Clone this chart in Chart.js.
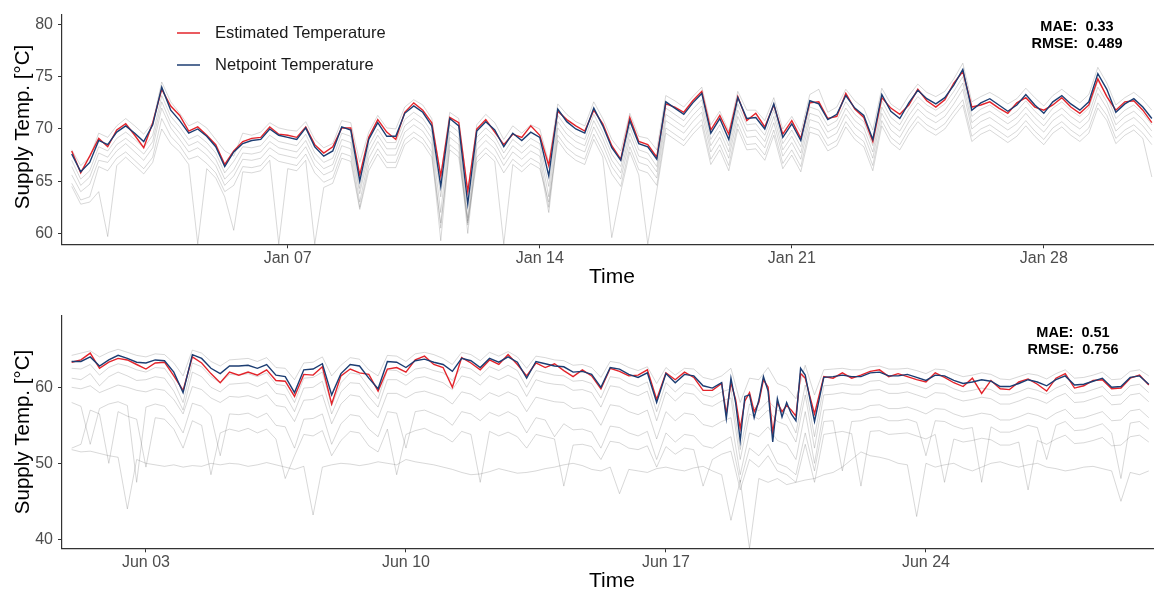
<!DOCTYPE html>
<html>
<head>
<meta charset="utf-8">
<script src="https://cdn.jsdelivr.net/npm/chart.js@4.4.1/dist/chart.umd.min.js"></script>
<style>
  html, body { margin: 0; padding: 0; background: #fff; }
  #top { position: absolute; left: 0; top: 0; width: 1154px; height: 295px; }
  #bottom { position: absolute; left: 0; top: 295px; width: 1154px; height: 296px; }
</style>
</head>
<body>
<div id="top"><canvas id="chartTop"></canvas></div>
<div id="bottom"><canvas id="chartBottom"></canvas></div>
<script>
// time grids, in days since Jan 01 / Jun 01 00:00 (6 hourly, 3 hourly in the Jun 18-20 burst)
const janDays = [];
for (let h = 0; h <= 720; h += 6) janDays.push(h / 24);
const junDays = [];
for (let h = 0; h <= 696; h += (h >= 420 && h < 480) ? 3 : 6) junDays.push(h / 24);
const junGrayDays = [];
for (let h = 0; h <= 696; h += 6) junGrayDays.push(h / 24);

// tick labels
const janTickDays = [6, 13, 20, 27];
const janTickLabels = ['Jan 07', 'Jan 14', 'Jan 21', 'Jan 28'];
const junTickDays = [2, 9, 16, 23];
const junTickLabels = ['Jun 03', 'Jun 10', 'Jun 17', 'Jun 24'];
const janYTicks = [60, 65, 70, 75, 80];
const junYTicks = [40, 50, 60];

// January
const janNetpoint = [
  67.6, 65.9, 66.8, 68.9, 68.5, 69.7, 70.3, 69.6, 68.8, 70.4,
  74.0, 71.8, 70.8, 69.6, 70.0, 69.3, 68.3, 66.4, 67.8, 68.6,
  68.9, 69.0, 70.0, 69.4, 69.2, 69.0, 70.1, 68.3, 67.4, 67.9,
  70.2, 69.9, 65.0, 69.0, 70.6, 69.3, 69.3, 71.5, 72.2, 71.6,
  70.3, 64.5, 71.0, 70.3, 62.8, 69.8, 70.7, 69.9, 68.3, 69.6,
  68.9, 69.7, 69.2, 65.5, 71.9, 70.7, 70.0, 69.6, 72.0, 70.3,
  68.2, 67.0, 70.8, 68.6, 68.3, 67.1, 72.6, 72.0, 71.4, 72.5,
  73.4, 69.6, 71.0, 69.0, 73.0, 71.0, 71.1, 70.0, 72.4, 69.2,
  70.5, 68.9, 72.7, 72.4, 70.9, 71.4, 73.2, 72.0, 71.3, 69.0,
  73.3, 71.7, 71.0, 72.5, 73.7, 72.9, 72.4, 73.0, 74.2, 75.7,
  71.8, 72.5, 72.9, 72.3, 71.7, 72.3, 73.3, 72.3, 71.5, 72.6,
  73.2, 72.4, 71.8, 72.6, 75.3, 73.8, 71.6, 72.4, 72.9, 72.1, 71.0
];
const janEstimated = [
  67.9, 65.8, 67.4, 69.1, 68.3, 69.9, 70.5, 69.4, 68.2, 70.6,
  73.8, 72.2, 71.3, 69.8, 70.2, 69.4, 68.5, 66.6, 67.9, 68.8,
  69.1, 69.2, 70.2, 69.5, 69.4, 69.2, 70.2, 68.5, 67.7, 68.3,
  70.1, 70.1, 65.6, 69.2, 70.9, 69.7, 69.0, 71.6, 72.5, 71.8,
  70.6, 65.5, 71.1, 70.6, 64.0, 70.0, 70.9, 69.7, 68.5, 69.5,
  69.2, 70.3, 69.4, 66.5, 71.7, 70.9, 70.3, 69.8, 71.8, 70.5,
  68.4, 67.1, 71.1, 68.8, 68.5, 67.3, 72.4, 72.1, 71.6, 72.7,
  73.6, 69.9, 71.3, 69.5, 73.1, 70.8, 71.5, 70.2, 72.3, 69.5,
  70.8, 69.1, 72.5, 72.6, 71.0, 71.2, 73.4, 71.9, 71.1, 68.8,
  73.0, 72.0, 71.4, 72.3, 73.8, 72.7, 72.1, 72.8, 74.4, 75.5,
  72.1, 72.3, 72.6, 72.0, 71.5, 72.5, 73.0, 72.1, 71.8, 72.3,
  73.0, 72.1, 71.5, 72.3, 74.8, 73.1, 71.8, 72.6, 72.7, 71.8, 70.6
];
const janGray1 = [
  68.0, 66.5, 67.3, 69.6, 69.2, 70.3, 71.0, 70.3, 69.5, 70.6,
  74.5, 72.6, 71.5, 70.3, 70.7, 70.1, 69.0, 67.9, 67.4, 69.6,
  69.4, 69.7, 70.6, 70.1, 69.9, 69.8, 70.7, 69.0, 68.2, 68.6,
  70.8, 70.6, 66.8, 69.7, 71.3, 70.1, 70.0, 72.1, 72.8, 72.3,
  71.0, 65.5, 71.6, 71.0, 64.0, 70.4, 71.4, 70.6, 69.0, 70.3,
  69.6, 70.4, 70.0, 66.8, 72.4, 71.4, 70.7, 70.3, 72.6, 71.0,
  69.0, 67.9, 71.5, 69.3, 69.1, 68.0, 73.2, 72.7, 72.1, 73.1,
  74.0, 70.4, 71.7, 69.8, 73.6, 71.8, 71.8, 70.8, 73.0, 70.0,
  71.2, 69.7, 73.3, 73.8, 71.6, 72.1, 73.8, 72.7, 72.0, 69.9,
  73.9, 72.4, 71.8, 73.2, 74.3, 73.5, 73.1, 73.6, 74.8, 76.3,
  72.6, 73.1, 73.5, 73.0, 72.4, 72.9, 73.9, 73.0, 72.2, 73.2,
  73.8, 73.1, 72.5, 73.3, 75.9, 74.4, 72.3, 73.0, 73.5, 72.8, 71.8
];
const janGray2 = [
  67.0, 65.2, 66.0, 68.3, 67.9, 69.1, 69.7, 69.0, 68.2, 69.4,
  73.2, 71.2, 70.2, 69.0, 69.4, 68.7, 67.7, 65.8, 66.9, 68.3,
  68.2, 68.4, 69.4, 68.8, 68.6, 68.4, 69.5, 67.7, 66.8, 67.2,
  69.6, 69.3, 64.3, 68.4, 70.0, 68.7, 68.7, 70.9, 71.6, 71.0,
  69.7, 63.5, 70.4, 69.7, 61.5, 69.2, 70.1, 69.3, 67.7, 69.0,
  68.3, 69.1, 68.6, 64.5, 71.3, 70.1, 69.4, 69.0, 71.4, 69.7,
  67.6, 66.4, 70.2, 68.0, 67.7, 66.4, 72.0, 71.4, 70.8, 71.9,
  72.8, 69.0, 70.4, 68.4, 72.4, 70.4, 70.5, 69.4, 71.8, 68.6,
  69.9, 68.3, 72.1, 71.8, 70.3, 70.8, 72.6, 71.4, 70.7, 68.4,
  72.7, 71.1, 70.4, 71.9, 73.1, 72.3, 71.8, 72.4, 73.6, 75.0,
  71.2, 71.9, 72.3, 71.7, 71.1, 71.7, 72.7, 71.7, 70.9, 72.0,
  72.6, 71.8, 71.2, 72.0, 74.6, 73.2, 71.0, 71.8, 72.3, 71.5, 70.4
];
const janGray3 = [
  66.4, 64.6, 65.4, 67.7, 67.3, 68.5, 69.1, 68.4, 67.6, 68.8,
  72.6, 70.6, 69.6, 68.4, 68.8, 68.1, 67.1, 65.2, 66.1, 67.7,
  67.6, 67.8, 68.8, 68.2, 68.0, 67.8, 68.9, 67.1, 66.2, 66.6,
  69.0, 68.7, 63.8, 67.8, 69.4, 68.1, 68.1, 70.3, 71.0, 70.4,
  69.1, 62.0, 69.8, 69.1, 60.8, 68.6, 69.5, 68.7, 67.1, 68.4,
  67.7, 68.5, 68.0, 63.5, 70.7, 69.5, 68.8, 68.4, 70.8, 69.1,
  67.0, 65.8, 69.6, 67.4, 67.1, 65.9, 71.4, 70.8, 70.2, 71.3,
  72.2, 68.4, 69.8, 67.8, 71.8, 69.8, 69.9, 68.8, 71.2, 68.0,
  69.3, 67.7, 71.5, 71.2, 69.7, 70.2, 72.0, 70.8, 70.1, 67.8,
  72.1, 70.5, 69.8, 71.3, 72.5, 71.7, 71.2, 71.8, 73.0, 74.4,
  70.6, 71.3, 71.7, 71.1, 70.5, 71.1, 72.1, 71.1, 70.3, 71.4,
  72.0, 71.2, 70.6, 71.4, 74.0, 72.6, 70.4, 71.2, 71.7, 70.9, 69.8
];
const janGray4 = [
  65.6, 64.0, 64.7, 67.0, 66.8, 67.9, 68.6, 67.8, 67.0, 68.2,
  72.0, 70.1, 69.0, 67.8, 68.2, 67.5, 66.5, 64.6, 65.5, 67.1,
  67.0, 67.2, 68.2, 67.6, 67.4, 67.2, 68.3, 66.5, 65.6, 66.0,
  68.4, 68.1, 63.0, 67.2, 68.8, 67.5, 67.5, 69.7, 70.4, 69.8,
  68.5, 60.5, 69.2, 68.5, 60.0, 68.0, 68.9, 68.1, 66.5, 67.8,
  67.1, 67.9, 67.4, 62.5, 70.1, 68.9, 68.2, 67.8, 70.2, 68.5,
  66.4, 65.2, 69.0, 66.8, 66.5, 65.3, 70.8, 70.2, 69.6, 70.7,
  71.6, 67.8, 69.2, 67.2, 71.2, 69.2, 69.3, 68.2, 70.6, 67.4,
  68.7, 67.1, 70.9, 70.6, 69.1, 69.6, 71.4, 70.2, 69.5, 67.2,
  71.5, 69.9, 69.2, 70.7, 71.9, 71.1, 70.6, 71.2, 72.4, 73.8,
  70.0, 70.7, 71.1, 70.5, 69.9, 70.5, 71.5, 70.5, 69.7, 70.8,
  71.4, 70.6, 70.0, 70.8, 73.4, 72.0, 69.8, 70.6, 71.1, 70.3, 69.2
];
const janGray5 = [
  64.8, 63.2, 63.5, 66.4, 66.0, 67.2, 67.8, 67.0, 66.2, 67.3,
  71.0, 69.3, 68.4, 67.1, 67.4, 66.7, 65.8, 64.0, 64.6, 66.4,
  66.3, 66.5, 67.5, 66.9, 66.7, 66.5, 67.6, 65.8, 64.9, 65.3,
  67.7, 67.4, 62.5, 66.5, 68.1, 66.8, 66.8, 69.0, 69.7, 69.1,
  67.8, 59.3, 68.5, 67.8, 61.2, 67.3, 68.2, 67.4, 65.8, 67.1,
  66.4, 67.2, 66.7, 62.0, 69.4, 68.2, 67.5, 67.1, 69.5, 67.8,
  65.7, 64.5, 68.3, 66.1, 65.8, 64.6, 70.1, 69.5, 68.9, 70.0,
  70.9, 67.1, 68.5, 66.5, 70.5, 68.5, 68.6, 67.5, 69.9, 66.7,
  68.0, 66.4, 70.2, 69.9, 68.4, 68.9, 70.7, 69.5, 68.8, 66.5,
  70.8, 69.2, 68.5, 70.0, 71.2, 70.4, 69.9, 70.5, 71.7, 72.8,
  69.3, 70.0, 70.4, 69.8, 69.2, 69.8, 70.8, 69.8, 69.0, 70.1,
  70.7, 69.9, 69.3, 70.1, 72.5, 71.3, 69.1, 69.9, 70.4, 69.6, 68.5
];
const janGray6 = [
  64.5, 62.8, 63.0, 64.0, 59.7, 66.5, 67.3, 66.5, 65.7, 66.8,
  70.0, 68.6, 67.8, 66.6, 59.0, 66.2, 65.3, 63.5, 60.3, 65.9,
  65.8, 66.0, 67.0, 59.0, 66.2, 66.0, 67.0, 59.0, 64.4, 64.8,
  67.2, 66.9, 62.3, 66.0, 67.6, 66.3, 66.3, 68.5, 69.2, 68.6,
  67.3, 61.0, 68.0, 67.3, 61.0, 66.8, 67.7, 66.9, 59.0, 66.6,
  65.9, 66.7, 66.2, 63.0, 68.9, 67.7, 67.0, 66.6, 69.0, 67.3,
  59.6, 64.0, 67.8, 65.6, 59.0, 64.1, 69.6, 69.0, 68.4, 69.5,
  70.4, 66.6, 68.0, 66.0, 70.0, 68.0, 68.1, 67.0, 69.4, 66.2,
  67.5, 65.9, 69.7, 69.4, 67.9, 68.4, 70.2, 69.0, 68.3, 66.0,
  70.3, 68.7, 68.0, 69.5, 70.7, 69.9, 69.4, 70.0, 71.2, 72.3,
  68.8, 69.5, 69.9, 69.3, 68.7, 69.3, 70.3, 69.3, 68.5, 69.6,
  70.2, 69.4, 68.8, 69.6, 72.0, 70.8, 68.6, 69.4, 69.9, 69.1, 65.4
];

// June
const junNetpoint = [
  63.4, 63.4, 64.0, 62.8, 63.6, 64.2, 63.8, 63.3, 63.2, 63.6,
  63.5, 62.0, 59.3, 64.3, 63.8, 62.5, 61.8, 62.8, 62.8, 62.9,
  62.5, 63.0, 61.6, 61.4, 59.3, 62.3, 62.4, 63.1, 59.0, 61.8,
  63.0, 62.8, 61.2, 59.8, 63.4, 63.3, 62.6, 63.5, 63.7, 63.3,
  63.0, 62.1, 63.8, 63.5, 62.6, 63.8, 63.3, 64.0, 63.3, 61.2,
  63.4, 63.1, 62.8, 62.7, 62.0, 62.1, 61.7, 60.0, 62.6, 62.4,
  61.7, 61.3, 61.9, 58.0, 61.8, 60.6, 61.7, 61.5, 60.2, 59.9,
  60.6,
  55.9, 61.2, 58.0, 53.0, 58.8, 59.0, 56.0, 58.3, 61.4, 59.5,
  52.8, 58.5, 56.1, 58.0, 56.5, 55.6, 62.5, 61.6, 58.5, 55.5,
  61.3, 61.4, 61.6, 61.4, 61.4, 61.9, 62.0, 61.5, 61.5, 61.7,
  61.3, 60.9, 61.6, 61.5, 60.9, 60.5, 60.7, 61.0, 60.8, 60.1,
  60.1, 60.5, 61.0, 60.7, 60.2, 61.0, 61.5, 60.3, 60.4, 60.8,
  61.2, 60.0, 60.1, 61.3, 61.5, 60.4
];
const junEstimated = [
  63.3, 63.6, 64.5, 62.5, 63.3, 63.8, 63.6, 63.0, 62.4, 63.2,
  63.3, 61.5, 59.6, 64.0, 63.2, 61.8, 60.6, 62.0, 61.6, 62.0,
  61.6, 62.3, 60.9, 60.8, 58.8, 61.7, 61.6, 62.7, 57.8, 61.5,
  62.4, 61.9, 61.7, 59.5, 62.4, 62.6, 62.0, 63.6, 64.1, 63.0,
  62.6, 60.0, 63.9, 63.2, 62.3, 63.6, 63.0, 64.3, 63.0, 61.5,
  63.2, 62.6, 63.1, 62.2, 61.4, 62.3, 61.5, 59.8, 62.5, 62.1,
  61.5, 61.6, 62.3, 58.4, 61.9, 61.0, 62.0, 61.3, 59.6, 59.6,
  60.5,
  56.5, 60.6, 58.4, 54.6, 58.2, 59.3, 56.8, 58.0, 61.0, 60.0,
  54.0, 58.0, 56.8, 57.6, 57.0, 56.2, 61.8, 61.2, 58.8, 56.5,
  61.4, 61.2, 61.9, 61.2, 61.6, 62.1, 62.3, 61.4, 61.8, 61.4,
  61.0, 60.7, 61.9, 61.3, 60.6, 60.1, 61.2, 59.2, 60.9, 59.8,
  59.7, 60.7, 61.1, 60.4, 59.5, 61.2, 61.8, 59.9, 60.2, 60.9,
  61.0, 59.8, 59.9, 61.2, 61.6, 60.3
];
const junGray1 = [
  64.2, 64.5, 64.8, 64.0, 64.6, 65.0, 64.6, 64.2, 64.0, 64.4,
  64.3, 63.2, 61.5, 64.9, 64.5, 63.4, 62.8, 63.6, 63.7, 63.8,
  63.4, 63.9, 62.6, 62.5, 61.0, 63.2, 63.3, 64.0, 61.5, 62.9,
  63.9, 63.7, 62.3, 61.5, 64.2, 64.1, 63.4, 64.4, 64.6, 64.3,
  63.8, 63.0, 64.6, 64.3, 63.5, 64.6, 64.1, 64.7, 64.0, 62.5,
  64.1, 63.9, 63.6, 63.5, 62.9, 63.0, 62.6, 61.3, 63.4, 63.2,
  62.6, 62.2, 62.7, 60.5, 62.6, 61.6, 62.5, 62.4, 61.3, 61.0,
  61.5, 62.5, 58.0, 61.2, 61.0, 62.6, 60.5, 60.0, 58.5, 62.9,
  59.0,
  62.3, 62.4, 62.5, 62.3, 62.3, 62.7, 62.8, 62.4, 62.4, 62.5,
  62.2, 61.8, 62.4, 62.3, 61.8, 61.4, 61.6, 61.9, 61.7, 61.1,
  61.0, 61.4, 61.8, 61.6, 61.1, 61.8, 62.3, 61.2, 61.3, 61.6,
  62.0, 61.0, 61.1, 62.1, 62.3, 61.5
];
const junGray2 = [
  62.5, 62.4, 63.0, 61.6, 62.6, 63.1, 62.8, 62.3, 62.0, 62.6,
  62.5, 60.8, 58.0, 63.2, 62.7, 61.4, 60.6, 61.7, 61.6, 61.8,
  61.4, 61.9, 60.4, 60.2, 58.0, 61.2, 61.3, 62.0, 57.6, 60.6,
  61.9, 61.7, 60.0, 58.5, 62.3, 62.2, 61.5, 62.4, 62.6, 62.2,
  61.9, 60.9, 62.7, 62.4, 61.5, 62.7, 62.2, 62.9, 62.2, 60.0,
  62.2, 61.9, 61.6, 61.5, 60.8, 60.9, 60.5, 58.6, 61.4, 61.2,
  60.5, 60.1, 60.7, 56.8, 60.6, 59.4, 60.5, 60.3, 59.0, 58.7,
  59.4, 59.8, 51.8, 57.8, 56.9, 58.2, 57.0, 56.5, 54.0, 60.3,
  53.5,
  60.2, 60.3, 60.5, 60.3, 60.3, 60.8, 60.9, 60.4, 60.4, 60.6,
  60.2, 59.8, 60.5, 60.4, 59.8, 59.4, 59.6, 59.9, 59.7, 59.0,
  59.0, 59.4, 59.9, 59.6, 59.1, 59.9, 60.4, 59.2, 59.3, 59.7,
  60.1, 58.9, 59.0, 60.2, 60.4, 59.3
];
const junGray3 = [
  61.2, 61.0, 61.8, 60.2, 61.4, 62.0, 61.5, 60.9, 61.0, 61.4,
  61.2, 59.5, 57.0, 62.0, 61.4, 60.0, 59.4, 60.4, 60.5, 60.6,
  60.1, 60.7, 59.2, 59.0, 56.8, 59.9, 60.0, 60.8, 56.5, 59.4,
  60.6, 60.5, 58.8, 57.4, 61.0, 61.0, 60.3, 61.2, 61.4, 61.0,
  60.6, 59.7, 61.5, 61.2, 60.3, 61.5, 61.0, 61.6, 61.0, 58.8,
  61.0, 60.6, 60.4, 60.3, 59.6, 59.7, 59.3, 57.4, 60.2, 60.0,
  59.3, 58.9, 59.5, 55.6, 59.4, 58.2, 59.3, 59.1, 57.8, 57.5,
  58.2, 58.6, 50.5, 56.5, 55.8, 57.0, 55.5, 55.0, 52.8, 59.0,
  52.0,
  59.0, 59.1, 59.3, 59.1, 59.1, 59.6, 59.7, 59.2, 59.2, 59.4,
  59.0, 58.6, 59.3, 59.2, 58.6, 58.2, 58.4, 58.7, 58.5, 57.8,
  57.8, 58.2, 58.7, 58.4, 57.9, 58.7, 59.2, 58.0, 58.1, 58.5,
  58.9, 57.7, 57.8, 59.0, 59.2, 58.1
];
const junGray4 = [
  60.0, 59.8, 60.2, 59.3, 59.8, 60.3, 60.0, 59.6, 59.4, 59.8,
  59.6, 58.4, 56.5, 60.1, 59.7, 58.6, 58.0, 58.8, 58.7, 58.9,
  58.5, 59.0, 57.6, 57.4, 55.5, 58.3, 58.4, 59.0, 55.2, 57.8,
  59.0, 58.8, 57.2, 56.0, 59.2, 59.2, 58.6, 59.3, 59.5, 59.1,
  58.7, 57.8, 59.4, 59.1, 58.3, 59.3, 58.8, 59.4, 58.8, 56.8,
  58.7, 58.4, 58.1, 58.0, 57.2, 57.3, 56.9, 55.0, 57.7, 57.5,
  56.8, 56.4, 57.0, 53.2, 56.8, 55.6, 56.6, 56.4, 55.1, 54.8,
  55.5, 56.0, 48.5, 54.0, 53.5, 54.8, 53.0, 52.5, 50.5, 56.8,
  50.0,
  57.0, 57.1, 57.3, 57.0, 57.1, 57.6, 57.7, 57.2, 57.2, 57.4,
  57.0, 56.5, 57.2, 57.1, 56.5, 56.1, 56.3, 56.6, 56.4, 55.7,
  55.7, 56.1, 56.6, 56.3, 55.8, 56.6, 57.1, 55.9, 56.0, 56.4,
  56.8, 55.6, 55.7, 56.9, 57.1, 56.0
];
const junGray5 = [
  58.0, 57.5, 52.5, 57.2, 57.8, 58.1, 57.6, 47.5, 57.4, 57.8,
  57.5, 56.0, 54.0, 57.9, 57.5, 56.3, 51.0, 56.5, 56.4, 56.6,
  56.0, 56.6, 55.0, 54.8, 52.0, 55.8, 55.9, 56.5, 52.5, 55.2,
  56.4, 56.2, 54.5, 53.5, 56.8, 56.6, 52.0, 56.8, 57.0, 56.5,
  56.0, 55.0, 56.8, 56.5, 55.6, 56.7, 56.2, 56.8, 56.1, 54.0,
  56.0, 55.7, 53.5, 55.2, 54.4, 54.5, 54.1, 52.0, 54.9, 54.7,
  54.0, 53.6, 54.2, 50.5, 54.0, 52.8, 53.8, 53.6, 52.3, 52.0,
  52.8, 53.5, 47.5, 52.0, 51.0, 52.5, 50.0, 49.5, 48.5, 54.0,
  49.0,
  55.5, 55.6, 49.0, 55.5, 55.6, 56.0, 56.1, 55.6, 55.6, 55.8,
  55.4, 51.0, 55.6, 55.5, 54.9, 54.5, 54.7, 47.5, 54.8, 54.1,
  54.1, 54.5, 55.0, 54.7, 50.5, 55.0, 55.5, 54.3, 54.4, 54.8,
  55.2, 54.0, 48.0, 55.3, 55.5, 54.5
];
const junGray6 = [
  51.8, 51.5, 51.6, 51.3, 51.0, 50.8, 44.0, 50.5, 50.0, 49.8,
  49.6, 49.8, 49.5, 49.7, 49.6, 50.0, 49.8, 50.0, 49.9, 49.6,
  49.8, 50.1, 49.8, 49.5, 49.2, 49.6, 43.2, 49.5, 49.8, 50.0,
  49.9, 49.7, 49.9, 50.2, 50.0, 49.8, 50.5, 50.2, 50.0, 49.8,
  49.5, 49.2, 48.8, 48.5, 48.6, 48.9, 49.3, 49.0, 48.7, 48.8,
  49.0, 49.3, 49.5, 49.8, 50.0, 49.7, 49.2, 49.0, 49.5, 46.0,
  49.2, 49.0, 48.8, 49.3, 49.5, 49.2, 49.0, 49.4, 49.6, 49.0,
  48.5, 42.5, 47.8, 38.8, 48.0, 47.5, 48.0, 47.2, 47.5, 47.8,
  48.0,
  48.5, 48.8, 49.5, 50.5, 51.5, 51.0, 50.8, 50.5, 50.0, 49.8,
  43.0, 50.0, 49.5, 49.8, 50.0, 49.4, 49.0, 49.5, 50.0, 50.2,
  49.8, 49.5, 49.8, 50.0, 49.5, 49.3, 49.0, 49.2, 49.5, 49.6,
  49.3, 49.0, 45.0, 48.8, 48.5, 49.0
];
const junGray7 = [
  52.0, 52.5, 57.0, 56.5, 50.0, 56.8, 56.2, 55.8, 49.5, 56.0,
  55.8, 54.5, 52.0, 55.6, 55.0, 48.5, 54.0, 54.5, 54.2, 54.6,
  54.0, 54.5, 53.2, 48.0, 51.0, 53.8, 53.6, 54.3, 51.0, 53.0,
  54.2, 54.0, 52.3, 51.5, 54.5, 48.5, 53.8, 54.3, 54.6, 54.0,
  53.6, 52.8, 54.2, 53.8, 47.5, 54.2, 53.6, 54.1, 53.5, 52.0,
  53.8, 53.5, 53.2, 47.0, 52.4, 52.5, 52.2, 50.5, 52.9, 52.7,
  52.0, 51.8, 52.3, 49.5, 52.2, 51.2, 52.0, 51.8, 47.0, 50.5,
  51.2, 51.6, 46.5, 50.5, 49.5, 51.0, 49.0, 48.5, 47.5, 52.5,
  47.5,
  53.8, 54.0, 54.2, 53.9, 47.0, 54.2, 54.3, 53.8, 53.9, 54.0,
  53.6, 53.2, 53.8, 47.5, 53.2, 52.8, 53.0, 53.3, 53.1, 52.4,
  52.4, 52.8, 46.5, 53.0, 52.5, 53.2, 53.7, 52.6, 52.7, 53.0,
  53.4, 52.3, 52.4, 53.5, 53.7, 52.8
];

const RED = '#e3242b';
const BLUE = '#1c3d72';
const GRAY = 'rgba(105,105,105,0.26)';
const FONT = '"Liberation Sans", Arial, Helvetica, sans-serif';

function pts(days, vals) {
  return vals.map((v, i) => ({ x: days[i], y: v }));
}

// axis titles, legend and error metrics
const panelText = {
  id: 'panelText',
  afterDraw(chart, args, o) {
    const ctx = chart.ctx;
    ctx.save();
    ctx.fillStyle = '#000';
    ctx.textAlign = 'center';
    ctx.textBaseline = 'middle';
    ctx.font = '21px ' + FONT;
    ctx.fillText('Time', o.timeX, o.timeY);
    ctx.save();
    ctx.translate(o.yTitleX, o.yTitleY);
    ctx.rotate(-Math.PI / 2);
    ctx.font = '20.5px ' + FONT;
    ctx.fillText('Supply Temp. [°C]', 0, 0);
    ctx.restore();

    ctx.font = 'bold 14.5px ' + FONT;
    ctx.fillText(o.metrics[0], o.metricsX, o.metricsY);
    ctx.fillText(o.metrics[1], o.metricsX, o.metricsY + 16.5);

    if (o.legend) {
      const items = [['Estimated Temperature', RED, 33], ['Netpoint Temperature', BLUE, 65]];
      ctx.textAlign = 'left';
      ctx.font = '16.5px ' + FONT;
      items.forEach(([label, color, y]) => {
        ctx.strokeStyle = color;
        ctx.lineWidth = 1.5;
        ctx.beginPath();
        ctx.moveTo(177, y);
        ctx.lineTo(200, y);
        ctx.stroke();
        ctx.fillStyle = '#1a1a1a';
        ctx.fillText(label, 215, y);
      });
    }
    ctx.restore();
  }
};

function makeChart(id, cfg) {
  const datasets = cfg.grays.map(g => ({
    data: pts(cfg.grayDays, g), borderColor: GRAY, borderWidth: 1, order: 2
  }));
  datasets.push({ label: 'Estimated Temperature', data: pts(cfg.days, cfg.estimated),
    borderColor: RED, borderWidth: 1.4, order: 1 });
  datasets.push({ label: 'Netpoint Temperature', data: pts(cfg.days, cfg.netpoint),
    borderColor: BLUE, borderWidth: 1.4, order: 0 });

  const tickFont = { family: FONT, size: 16 };
  return new Chart(document.getElementById(id), {
    type: 'line',
    data: { datasets },
    options: {
      animation: false,
      responsive: true,
      maintainAspectRatio: false,
      elements: { point: { radius: 0 }, line: { tension: 0 } },
      layout: { padding: { top: cfg.padTop, left: 0, right: 0, bottom: 0 } },
      plugins: {
        legend: { display: false },
        tooltip: { enabled: false },
        panelText: cfg.text
      },
      scales: {
        x: {
          type: 'linear',
          min: cfg.xMin,
          max: cfg.xMax,
          afterFit: s => { s.height = cfg.xAxisHeight; },
          afterBuildTicks: s => { s.ticks = cfg.tickDays.map(v => ({ value: v })); },
          ticks: {
            callback: (v, i) => cfg.tickLabels[i],
            font: tickFont, color: '#4d4d4d', padding: 1, maxRotation: 0, autoSkip: false
          },
          grid: { display: true, drawOnChartArea: false, drawTicks: true, tickLength: 4, color: '#333', lineWidth: 1 },
          border: { display: true, color: '#333', width: 1.2 }
        },
        y: {
          min: cfg.yMin,
          max: cfg.yMax,
          afterFit: s => { s.width = 62; },
          afterBuildTicks: s => { s.ticks = cfg.yTicks.map(v => ({ value: v })); },
          ticks: { font: tickFont, color: '#4d4d4d', padding: 5 },
          grid: { display: true, drawOnChartArea: false, drawTicks: true, tickLength: 4, color: '#333', lineWidth: 1 },
          border: { display: true, color: '#333', width: 1.2 }
        }
      }
    },
    plugins: [panelText]
  });
}

makeChart('chartTop', {
  days: janDays, grayDays: janDays,
  netpoint: janNetpoint, estimated: janEstimated,
  grays: [janGray1, janGray2, janGray3, janGray4, janGray5, janGray6],
  xMin: -0.27, xMax: 30.06, yMin: 58.96, yMax: 80.95,
  tickDays: janTickDays, tickLabels: janTickLabels, yTicks: janYTicks,
  padTop: 11.7, xAxisHeight: 50.7,
  text: { timeX: 612, timeY: 277, yTitleX: 23, yTitleY: 127,
    metrics: ['MAE:  0.33', 'RMSE:  0.489'], metricsX: 1077, metricsY: 27, legend: true }
});

makeChart('chartBottom', {
  days: junDays, grayDays: junGrayDays,
  netpoint: junNetpoint, estimated: junEstimated,
  grays: [junGray1, junGray2, junGray3, junGray4, junGray5, junGray6, junGray7],
  xMin: -0.26, xMax: 29.14, yMin: 38.82, yMax: 69.38,
  tickDays: junTickDays, tickLabels: junTickLabels, yTicks: junYTicks,
  padTop: 21, xAxisHeight: 42.7,
  text: { timeX: 612, timeY: 286.5, yTitleX: 23, yTitleY: 137,
    metrics: ['MAE:  0.51', 'RMSE:  0.756'], metricsX: 1073, metricsY: 38.3, legend: false }
});
</script>
</body>
</html>
